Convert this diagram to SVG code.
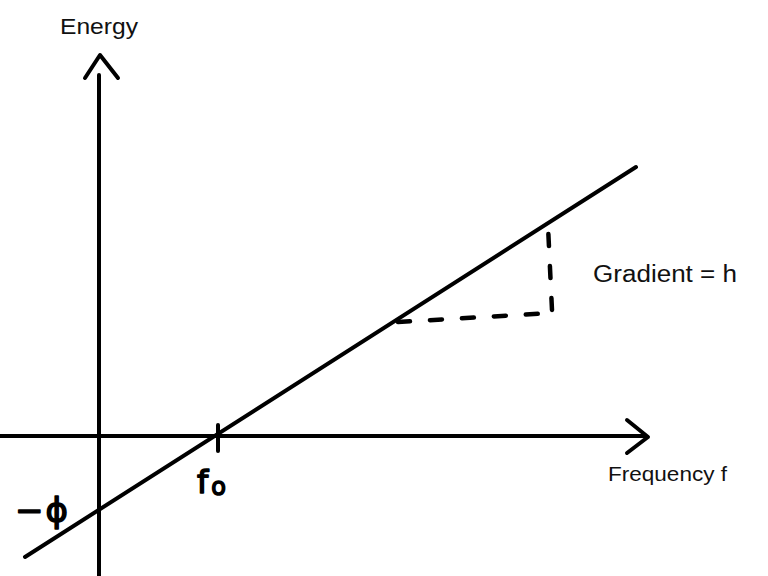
<svg xmlns="http://www.w3.org/2000/svg" width="768" height="576" viewBox="0 0 768 576">
<style>
.ax{stroke:#000;stroke-width:4;fill:none;stroke-linecap:round;stroke-linejoin:round}
.dash{stroke:#000;stroke-width:4.5;fill:none;stroke-linecap:round;stroke-dasharray:12 20}
.lbl{font-family:"Liberation Sans",Arial,sans-serif;fill:#111}
.hand{font-family:"DejaVu Sans",sans-serif;fill:#000;stroke:#000;stroke-width:1.5;stroke-linejoin:round}
</style>
<rect width="768" height="576" fill="#fff"/>
<g id="connectors">
<line class="ax" x1="99" y1="75" x2="99" y2="576"/>
<polyline class="ax" points="85,78 100,55 118,78"/>
<line class="ax" x1="0" y1="436" x2="645" y2="436"/>
<polyline class="ax" points="627,420 648,437 627,453"/>
<line class="ax" x1="218" y1="425" x2="218" y2="451"/>
<line class="ax" x1="25" y1="557" x2="636" y2="167"/>
<polyline class="dash" points="398,322 552,313"/>
<polyline class="dash" points="552,310 548,226"/>
</g>
<g id="energy-label"><text class="lbl" x="60" y="34" font-size="22" textLength="78" lengthAdjust="spacingAndGlyphs">Energy</text></g>
<g id="frequency-label"><text class="lbl" x="608" y="481" font-size="21" textLength="119" lengthAdjust="spacingAndGlyphs">Frequency f</text></g>
<g id="gradient-label"><text class="lbl" x="593" y="282" font-size="23" textLength="144" lengthAdjust="spacingAndGlyphs">Gradient = h</text></g>
<g id="f0-label"><text class="hand" x="197" y="493" font-size="32">f<tspan font-size="24" dx="3" dy="2">o</tspan></text></g>
<g id="phi-label"><text class="hand" x="15" y="522" font-size="34">−<tspan dx="2">ϕ</tspan></text></g>
</svg>
